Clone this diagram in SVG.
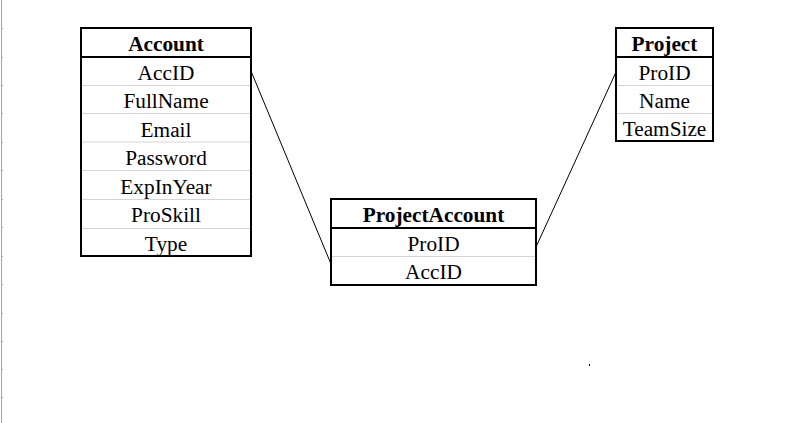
<svg xmlns="http://www.w3.org/2000/svg" width="795" height="423" viewBox="0 0 795 423">
<style>
.box{fill:#fff;stroke:#000;stroke-width:2}
.hl{stroke:#000;stroke-width:2}
.sep{stroke:#d4d4d4;stroke-width:1}
.grid{stroke:#a6a6a6;stroke-width:1}
.t{font-family:"Liberation Serif","Times New Roman",serif;font-size:21.3px;text-anchor:middle;fill:#000}
.h{font-weight:bold}
.conn{stroke:#000;stroke-width:1;fill:none}
</style>
<rect width="795" height="423" fill="#fff"/>
<g id="gridlines">
<line class="grid" x1="1.5" y1="0" x2="1.5" y2="423"/>
<path class="grid" d="M1 28.5h2M1 57.5h2M1 85.5h2M1 113.5h2M1 142.5h2M1 170.5h2M1 199.5h2M1 227.5h2M1 256.5h2M1 284.5h2M1 313.5h2M1 341.5h2M1 369.5h2M1 397.5h2"/>
</g>
<g id="connectors">
<line class="conn" x1="251" y1="71" x2="331" y2="264"/>
<line class="conn" x1="536" y1="247" x2="616" y2="72"/>
</g>
<g id="Account">
<rect class="box" x="81" y="28" width="170" height="228"/>
<line class="sep" x1="82" y1="85.5" x2="250" y2="85.5"/>
<line class="sep" x1="82" y1="113.5" x2="250" y2="113.5"/>
<line class="sep" x1="82" y1="142" x2="250" y2="142"/>
<line class="sep" x1="82" y1="170.5" x2="250" y2="170.5"/>
<line class="sep" x1="82" y1="199.5" x2="250" y2="199.5"/>
<line class="sep" x1="82" y1="228.5" x2="250" y2="228.5"/>
<line class="hl" x1="81" y1="57" x2="251" y2="57"/>
<text class="t h" x="166" y="51">Account</text>
<text class="t" x="166" y="80">AccID</text>
<text class="t" x="166" y="108">FullName</text>
<text class="t" x="166" y="136.5">Email</text>
<text class="t" x="166" y="165">Password</text>
<text class="t" x="166" y="193.5">ExpInYear</text>
<text class="t" x="166" y="222">ProSkill</text>
<text class="t" x="166" y="250.5">Type</text>
</g>
<g id="ProjectAccount">
<rect class="box" x="331" y="199" width="205" height="86"/>
<line class="sep" x1="332" y1="256.5" x2="535" y2="256.5"/>
<line class="hl" x1="331" y1="228" x2="536" y2="228"/>
<text class="t h" x="433.5" y="222">ProjectAccount</text>
<text class="t" x="433.5" y="250.5">ProID</text>
<text class="t" x="433.5" y="279">AccID</text>
</g>
<g id="Project">
<rect class="box" x="616" y="28" width="97" height="113"/>
<line class="sep" x1="617" y1="85.5" x2="712" y2="85.5"/>
<line class="sep" x1="617" y1="113.5" x2="712" y2="113.5"/>
<line class="hl" x1="616" y1="57" x2="713" y2="57"/>
<text class="t h" x="664.5" y="51">Project</text>
<text class="t" x="664.5" y="80">ProID</text>
<text class="t" x="664.5" y="108">Name</text>
<text class="t" x="664.5" y="136">TeamSize</text>
</g>
<rect x="589" y="364" width="1" height="2" fill="#000"/>
</svg>
